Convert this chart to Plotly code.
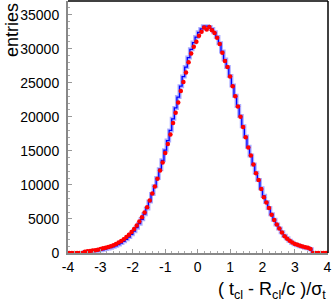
import numpy as np
import plotly.graph_objects as go

# 100 bins of width 0.08 from -4 to 4; data populated in the central 88 bins (-3.52 .. 3.52)
bin_lo, bin_hi, n_bins = -4.0, 4.0, 100
edges = np.linspace(bin_lo, bin_hi, n_bins + 1)
centers = (edges[:-1] + edges[1:]) / 2
empty_bins = 6

red_left = [200, 250, 300, 350, 410, 490, 580, 680, 780, 880, 1000, 1130, 1320, 1540, 1760,
            2030, 2340, 2680, 3100, 3530, 4030, 4620, 5250, 5930, 6720, 7700, 8750, 9750,
            10900, 12100, 13300, 14700, 16000, 17400, 19100, 20600, 22100, 23800, 25100,
            26500, 28000, 29300, 30300, 31000]
red_right = [31900, 32500, 33100, 32800, 33200, 32700, 32300, 31600, 30700, 29400, 28200,
             27300, 25900, 24500, 23000, 21500, 20000, 18500, 17000, 15500, 14300, 13000,
             11700, 10700, 9400, 8200, 7400, 6600, 5600, 4850, 4200, 3600, 3000, 2450, 2100,
             1800, 1550, 1320, 1200, 1070, 960, 860, 760, 600]
blue_left = [100, 130, 170, 210, 260, 320, 400, 480, 570, 670, 780, 900, 1060, 1250, 1460,
             1720, 2010, 2350, 2750, 3200, 3720, 4300, 4950, 5700, 6550, 7550, 8650, 9800,
             11000, 12300, 13600, 15100, 16500, 18000, 19700, 21300, 22900, 24500, 25900,
             27300, 28700, 29900, 30900, 31700]
blue_right = [32400, 32900, 33300, 33300, 33200, 32900, 32400, 31700, 30800, 29600, 28400,
              27300, 26000, 24600, 23100, 21600, 20100, 18600, 17100, 15600, 14300, 13000,
              11800, 10700, 9500, 8400, 7500, 6600, 5700, 4900, 4200, 3600, 3050, 2550, 2150,
              1800, 1520, 1300, 1130, 1000, 880, 780, 680, 560]

red_vals = [0] * empty_bins + red_left + red_right + [0] * empty_bins
blue_vals = [0] * empty_bins + blue_left + blue_right + [0] * empty_bins

x_ticks = [-4, -3, -2, -1, 0, 1, 2, 3, 4]
y_ticks = [0, 5000, 10000, 15000, 20000, 25000, 30000, 35000]

# blue step histogram restricted to populated bins plus one empty bin on each side
bx = list(centers[empty_bins - 1:n_bins - empty_bins + 1])
by = blue_vals[empty_bins - 1:n_bins - empty_bins + 1]

fig = go.Figure()
fig.add_trace(go.Scatter(x=bx, y=by, mode="lines", line=dict(shape="hvh", color="rgba(70,70,255,0.45)", width=4),
                         hoverinfo="skip", showlegend=False))
fig.add_trace(go.Scatter(x=bx, y=by, mode="lines", line=dict(shape="hvh", color="#0000ff", width=1.3),
                         showlegend=False))
fig.add_trace(go.Scatter(x=list(centers), y=red_vals, mode="markers",
                         marker=dict(color="#ff0000", size=4.5, line=dict(width=0)), showlegend=False))

font = "Liberation Sans, Arial, Helvetica, sans-serif"
fig.update_layout(
    width=332, height=301,
    margin=dict(l=68, r=4, t=1, b=48, autoexpand=False),
    paper_bgcolor="white", plot_bgcolor="white",
    font=dict(family=font, size=14, color="black"),
    xaxis=dict(range=[-4, 4.02], tickvals=x_ticks, ticktext=[str(v) for v in x_ticks],
               ticks="inside", ticklen=4, tickcolor="#999999", tickwidth=1,
               showline=True, linecolor="#888888", linewidth=2, showgrid=False, zeroline=False,
               minor=dict(dtick=0.2, ticks="inside", ticklen=2, tickcolor="#aaaaaa", showgrid=False),
               tickfont=dict(size=14), ticklabelstandoff=0, automargin=False,
               ticklabeloverflow="allow"),
    yaxis=dict(range=[0, 37000], tickvals=y_ticks, ticktext=[str(v) for v in y_ticks],
               ticks="inside", ticklen=4, tickcolor="#999999", tickwidth=1,
               showline=True, linecolor="#888888", linewidth=2, showgrid=False, zeroline=False,
               minor=dict(dtick=1000, ticks="inside", ticklen=2, tickcolor="#aaaaaa", showgrid=False),
               tickfont=dict(size=14), ticklabelstandoff=4, automargin=False,
               ticklabeloverflow="allow"),
    shapes=[
        dict(type="line", xref="paper", yref="paper", x0=0, x1=1, y0=1, y1=1, line=dict(color="black", width=1.5)),
        dict(type="line", xref="paper", yref="paper", x0=1, x1=1, y0=0, y1=1, line=dict(color="black", width=1.5)),
    ],
    annotations=[
        dict(text="entries", textangle=-90, xref="paper", yref="paper", x=-0.215, y=1.0,
             xanchor="center", yanchor="top", showarrow=False, font=dict(size=18)),
        dict(text="( t<sub>cl</sub> - R<sub>cl</sub>/c )/σ<sub>t</sub>", xref="paper", yref="paper",
             x=1.0, y=-0.15, xanchor="right", yanchor="middle", showarrow=False, font=dict(size=18)),
    ],
)

fig.write_html("out.html", config={"displayModeBar": False},
               post_script="document.body.style.margin='0';document.body.style.padding='0';")
